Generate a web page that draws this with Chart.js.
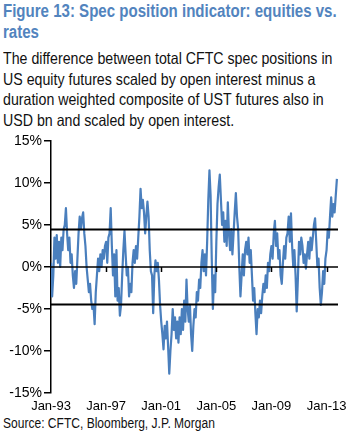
<!DOCTYPE html>
<html>
<head>
<meta charset="utf-8">
<script src="https://cdn.jsdelivr.net/npm/chart.js@4.4.1/dist/chart.umd.min.js"></script>
<style>
  html, body { margin: 0; padding: 0; background: #fff; }
  body { width: 353px; height: 439px; position: relative; overflow: hidden; font-family: "Liberation Sans", Arial, sans-serif; }
  .squish { position: absolute; left: 3px; transform: scaleX(0.86); transform-origin: 0 0; white-space: nowrap; }
  #title { top: 1px; font-size: 17.5px; line-height: 21px; font-weight: bold; color: #5284be; }
  #sub { top: 48px; font-size: 16.5px; line-height: 20.7px; color: #111; }
  #source { top: 415px; font-size: 14px; line-height: 16px; color: #111; }
  #wrap { position: absolute; left: 0; top: 125px; width: 353px; height: 290px; }
</style>
</head>
<body>
<div id="title" class="squish">Figure 13: Spec position indicator: equities vs.<br>rates</div>
<div id="sub" class="squish">The difference between total CFTC spec positions in<br>US equity futures scaled by open interest minus a<br>duration weighted composite of UST futures also in<br>USD bn and scaled by open interest.</div>
<div id="wrap"><canvas id="chart"></canvas></div>
<div id="source" class="squish">Source: CFTC, Bloomberg, J.P. Morgan</div>

<script>
// monthly readings, Jan-93 .. Oct-13 (% of open interest)
const values = [
    0.5, -3.5, -1.0, 3.5, 1.0, 3.8, 0.5, 3.0, 0.0, 3.5, 2.0, 4.5,        // 1993
    5.0, 7.0, 4.0, 2.0, 3.5, 0.5, 1.5, -1.0, -2.5, -0.5, -2.0, 1.0,      // 1994
    4.0, 6.0, 4.5, 5.8, 6.5, 4.0, 2.5, 0.0, -1.5, -3.0, -2.0, -4.0,      // 1995
    -5.0, -4.5, -6.8, -3.0, -1.0, 1.0, -0.5, 1.5, 0.0, 2.0, 1.0, 2.5,    // 1996
    3.0, 0.5, 3.5, 4.0, 7.0, 2.5, -1.0, 1.5, -3.5, 2.0, -4.0, -2.5,      // 1997
    -5.8, -4.5, -1.0, 2.0, 4.3, 1.5, -1.0, 0.0, -3.5, -2.0, -3.0, 0.5,   // 1998
    2.0, 0.5, 2.5, 1.0, 3.5, 6.0, 9.3, 7.0, 8.0, 6.5, 4.0, 6.0,          // 1999
    7.8, 6.0, 2.0, -0.5, -1.0, -5.5, -1.0, 0.8, -0.5, 0.5, -1.5, -4.5,   // 2000
    -6.5, -8.0, -9.8, -7.0, -8.5, -6.5, -9.5, -12.7, -10.0, -8.0, -5.0, -7.5, // 2001
    -6.0, -8.5, -6.5, -9.0, -6.0, -8.0, -5.0, -7.5, -4.0, -6.5, -1.5, -5.0,   // 2002
    -6.5, -4.5, -8.0, -10.0, -7.0, -5.0, -6.0, -3.0, -4.0, -1.5, -2.5, 0.5,   // 2003
    2.0, -0.5, 1.5, -1.0, 3.0, 8.0, 11.5, 8.5, 1.0, -5.0, -1.0, -3.0,    // 2004
    3.0, 7.5, 9.5, 11.0, 8.0, 5.0, 6.5, 3.0, 5.5, 2.5, 7.7, 4.0,         // 2005
    2.0, 4.5, 1.5, 4.0, 6.5, 8.8, 6.0, 4.5, 0.0, -3.5, -1.0, 1.5,        // 2006
    -1.0, 2.0, 3.0, 1.5, 3.5, 0.5, 2.0, -1.0, -4.0, -2.5, -5.5, -8.0,    // 2007
    -5.0, -6.0, -4.0, -5.5, -3.5, -2.0, -3.0, -1.0, -2.5, 0.5, -0.5, 1.5, // 2008
    2.5, 1.0, 4.0, 5.5, 2.5, 4.0, 1.0, 2.0, -1.0, -2.0, 0.5, 2.5,        // 2009
    1.0, 3.5, 4.0, 6.0, 3.0, 6.4, 2.5, 0.0, 2.0, -1.0, -5.3, -1.5,       // 2010
    3.0, 1.5, 3.5, 2.5, 0.5, 1.5, -0.2, 1.5, 3.0, 1.0, 3.5, 2.0,         // 2011
    3.5, 5.0, 5.8, 3.0, 0.0, 1.0, -2.5, -4.5, -3.0, -0.5, -2.0, 1.0,     // 2012
    2.0, 4.5, 3.5, 6.0, 8.3, 6.0, 7.5, 6.5, 8.5, 10.5                    // 2013
];
const bandLevel = 4.45;
const xMax = 250;
const tickMonths = [0, 48, 96, 144, 192, 240];
const tickLabels = ['Jan-93', 'Jan-97', 'Jan-01', 'Jan-05', 'Jan-09', 'Jan-13'];

const points = values.map((v, i) => ({ x: i, y: v }));
const flat = level => [{ x: 0, y: level }, { x: xMax, y: level }];

// little tick marks hanging off the zero line
const zeroTicks = {
    id: 'zeroTicks',
    afterDatasetsDraw(chart) {
        const { ctx, scales: { x, y } } = chart;
        const y0 = y.getPixelForValue(0);
        ctx.save();
        ctx.strokeStyle = '#000';
        ctx.lineWidth = 1.5;
        tickMonths.slice(1).forEach(m => {
            const px = Math.round(x.getPixelForValue(m)) + 0.5;
            ctx.beginPath();
            ctx.moveTo(px, y0);
            ctx.lineTo(px, y0 + 5);
            ctx.stroke();
        });
        ctx.restore();
    }
};

new Chart(document.getElementById('chart'), {
    type: 'line',
    data: {
        datasets: [
            { data: flat(bandLevel), borderColor: '#000', borderWidth: 2 },
            { data: flat(-bandLevel), borderColor: '#000', borderWidth: 2 },
            { data: flat(0), borderColor: '#000', borderWidth: 1.5 },
            { data: points, borderColor: '#4a7fbd', borderWidth: 2.2 }
        ]
    },
    options: {
        animation: false,
        responsive: true,
        maintainAspectRatio: false,
        devicePixelRatio: 1,
        layout: { padding: { top: 16, right: 14, left: 0, bottom: 0 } },
        elements: { point: { radius: 0 }, line: { tension: 0, borderJoinStyle: 'round' } },
        plugins: { legend: { display: false }, tooltip: { enabled: false } },
        scales: {
            x: {
                type: 'linear',
                min: 0,
                max: xMax,
                grid: { display: false, drawTicks: false },
                border: { display: false },
                afterBuildTicks: s => { s.ticks = tickMonths.map(v => ({ value: v })); },
                afterFit: s => { s.height = 22; },
                ticks: {
                    autoSkip: false,
                    maxRotation: 0,
                    padding: 6,
                    color: '#000',
                    font: { family: 'Liberation Sans', size: 13 },
                    callback: (v, i) => tickLabels[i]
                }
            },
            y: {
                min: -15,
                max: 15,
                grid: { drawOnChartArea: false, color: '#000', tickLength: 7, lineWidth: 1.5 },
                border: { color: '#000', width: 1.5 },
                afterFit: s => { s.width = 51; },
                ticks: {
                    stepSize: 5,
                    padding: 2,
                    color: '#000',
                    font: { family: 'Liberation Sans', size: 14 },
                    callback: v => v + '%'
                }
            }
        }
    },
    plugins: [zeroTicks]
});
</script>
</body>
</html>
